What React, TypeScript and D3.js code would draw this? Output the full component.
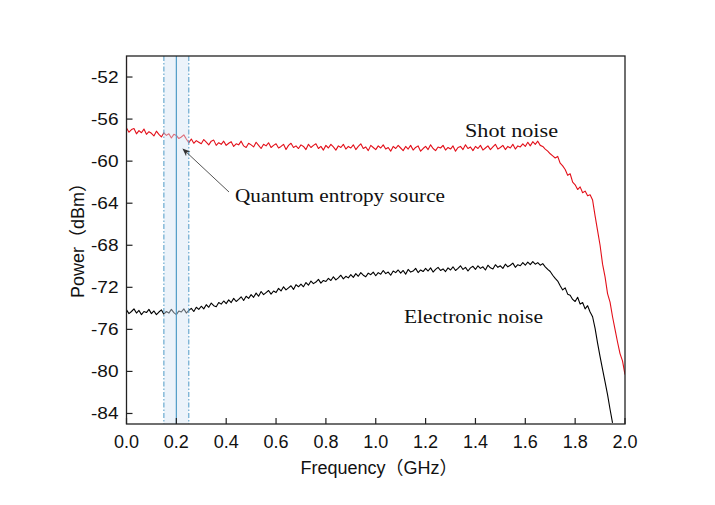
import React from "react";
import * as d3 from "d3";

// ---------- data ----------
const freqStep = 0.01; // GHz spacing of the sampled spectrum
const shotNoiseDc = { freq: 0, power: -50 };
const shotNoise: number[] = [
  -56.85, -57.25, -57.0, -56.9, -57.4, -57.1, -57.3, -56.95, -57.45, -57.2,
  -57.35, -57.6, -57.15, -57.45, -57.7, -57.3, -57.55, -57.4, -57.8, -57.45,
  -57.55, -57.85, -57.7, -57.5, -57.9, -58.25, -57.9, -58.3, -58.05, -58.2,
  -58.35, -57.95, -58.2, -58.45, -58.1, -58.0, -58.5, -58.25, -58.4, -58.1,
  -58.5, -58.3, -58.15, -58.6, -58.35, -58.45, -58.1, -58.55, -58.7, -58.3,
  -58.45, -58.65, -58.2, -58.5, -58.8, -58.4, -58.55, -58.25, -58.7, -58.5,
  -58.35, -58.75, -58.6, -58.4, -58.9, -58.5, -58.3, -58.7, -58.55, -58.8,
  -58.45, -58.6, -58.9, -58.4, -58.7, -58.5, -58.35, -58.8, -58.6, -58.95,
  -58.5, -58.75, -58.4, -58.65, -58.95, -58.55, -58.7, -58.4, -58.85, -58.6,
  -58.75, -58.45, -58.9, -58.6, -58.35, -58.8, -58.65, -59.0, -58.5, -58.7,
  -58.9, -58.55, -58.75, -58.45, -58.85, -58.7, -59.05, -58.6, -58.8, -58.5,
  -58.75, -59.0, -58.6, -58.85, -58.5, -58.95, -58.7, -58.55, -59.05, -58.8,
  -58.6, -58.9, -58.45, -58.8, -59.0, -58.65, -58.75, -58.5, -58.95, -58.7,
  -58.85, -58.55, -59.05, -58.7, -58.6, -58.9, -58.45, -58.8, -58.65, -59.0,
  -58.6, -58.8, -58.5, -58.95, -58.75, -58.55, -58.9, -58.65, -58.4, -58.85,
  -58.7, -58.5, -58.9, -58.6, -58.75, -58.4, -58.85, -58.55, -58.65, -58.35,
  -58.6, -58.2, -58.55, -58.15, -58.4, -58.1, -58.5, -58.6, -58.85, -59.05,
  -59.3, -59.5, -59.7, -59.55, -60.2, -60.45, -60.8, -61.35, -61.2, -62.0,
  -62.25, -62.7, -62.45, -63.0, -62.85, -63.3, -63.2, -63.7, -65.2, -66.6,
  -68.0, -69.8, -71.0, -72.6, -73.4, -74.8, -76.0, -77.2, -78.3, -79.0,
  -80.3,
];
const electronicNoise: number[] = [
  -74.15, -74.5, -74.3, -74.05, -74.45, -74.2, -74.6, -74.3, -74.4, -74.1,
  -74.5, -74.25, -74.6, -74.35, -74.15, -74.55, -74.3, -74.45, -74.1, -74.4,
  -74.6, -74.25, -74.35, -74.05, -74.45, -74.2, -74.0, -74.3, -73.9, -74.1,
  -73.8, -74.05, -73.65, -73.9, -73.5, -73.75, -73.85, -73.45, -73.6, -73.3,
  -73.55, -73.2, -73.45, -73.05, -73.35, -73.15, -72.9, -73.25, -72.85, -73.05,
  -72.7, -72.95, -72.55, -72.85, -72.4, -72.7, -72.5, -72.3, -72.65, -72.35,
  -72.5, -72.1, -72.35, -71.95, -72.25, -72.05, -71.85, -72.2, -71.75, -71.95,
  -71.7, -71.95, -71.55, -71.8, -71.4, -71.65, -71.5, -71.25, -71.6, -71.35,
  -71.45, -71.15, -71.35, -71.0, -71.3, -71.1, -70.85, -71.2, -70.95, -71.1,
  -70.8, -71.05, -70.7, -70.95, -70.6, -70.85, -71.0, -70.65, -70.8, -70.55,
  -70.9, -70.6, -70.75, -70.4, -70.7, -70.55, -70.85, -70.45, -70.6, -70.35,
  -70.65, -70.4, -70.75, -70.3, -70.55, -70.45, -70.2, -70.6, -70.35, -70.5,
  -70.2, -70.45, -70.15, -70.55, -70.3, -70.1, -70.4, -70.25, -70.5, -70.15,
  -70.35, -70.05, -70.4, -70.2, -69.95, -70.3, -70.1, -70.45, -70.15, -70.0,
  -70.3, -69.95, -70.2, -70.05, -70.35, -69.9, -70.15, -70.25, -69.85, -70.1,
  -69.95, -70.2, -69.8, -70.05, -69.9, -69.7, -70.1, -69.85, -69.95, -69.65,
  -69.9, -69.6, -69.85, -69.55, -69.8, -69.65, -69.9, -69.75, -70.05, -70.3,
  -70.5, -70.85, -71.15, -71.4, -71.85, -72.25, -72.05, -72.65, -72.75, -73.15,
  -73.35, -72.95, -73.6, -73.45, -74.05, -73.75, -74.35, -74.8, -75.9, -77.3,
  -78.6, -79.8, -81.0, -82.2, -83.6, -84.9,
];
const xTicks: number[] = [0, 0.2, 0.4, 0.6, 0.8, 1.0, 1.2, 1.4, 1.6, 1.8, 2.0];
const yTicks: number[] = [-84, -80, -76, -72, -68, -64, -60, -56, -52];
const band = { lo: 0.15, center: 0.2, hi: 0.25 };
const labels = {
  x: "Frequency（GHz）",
  y: "Power（dBm）",
  shot: "Shot noise",
  electronic: "Electronic noise",
  entropy: "Quantum entropy source",
};

// ---------- chart ----------
export default function App() {
  const W = 715, H = 505;
  const left = 126.5, right = 625, top = 56, bottom = 424;
  const x = d3.scaleLinear().domain([0, 2]).range([left, right]);
  const y = d3.scaleLinear().domain([-85, -50]).range([bottom, top]);

  type P = { freq: number; power: number };
  const redPts: P[] = [shotNoiseDc, ...shotNoise.map((p, i) => ({ freq: i * freqStep, power: p }))];
  const blackPts: P[] = electronicNoise.map((p, i) => ({ freq: i * freqStep, power: p }));
  const line = d3.line<P>().x((d) => x(d.freq)).y((d) => y(d.power));

  const sans = "'Liberation Sans', Arial, 'Noto Sans CJK SC', sans-serif";
  const serif = "'Liberation Serif', 'Times New Roman', serif";
  const bandColor = "#4f9ac6";

  return (
    <svg width={W} height={H} style={{ position: "absolute", left: 0, top: 0, background: "#fff" }}>
      <defs>
        <clipPath id="plot">
          <rect x={left} y={top} width={right - left} height={bottom - top} />
        </clipPath>
        <marker id="arrow" viewBox="0 0 10 10" refX="9" refY="5" markerWidth="8" markerHeight="8" orient="auto-start-reverse">
          <path d="M0,1 L10,5 L0,9 L3,5 Z" fill="#333" />
        </marker>
      </defs>
      <rect x={0} y={0} width={W} height={H} fill="#fff" />
      <g clipPath="url(#plot)">
        <path d={line(redPts) || ""} fill="none" stroke="#e3101a" strokeWidth={1.1} strokeLinejoin="round" />
        <path d={line(blackPts) || ""} fill="none" stroke="#000" strokeWidth={1.1} strokeLinejoin="round" />
        <rect x={x(band.lo)} y={top} width={x(band.hi) - x(band.lo)} height={bottom - top} fill="#d4e4f4" fillOpacity={0.45} />
        <line x1={x(band.lo)} x2={x(band.lo)} y1={top} y2={bottom} stroke={bandColor} strokeWidth={1} strokeDasharray="5,2,1.5,2" />
        <line x1={x(band.hi)} x2={x(band.hi)} y1={top} y2={bottom} stroke={bandColor} strokeWidth={1} strokeDasharray="5,2,1.5,2" />
        <line x1={x(band.center)} x2={x(band.center)} y1={top} y2={bottom} stroke={bandColor} strokeWidth={1.2} />
      </g>
      <rect x={left} y={top} width={right - left} height={bottom - top} fill="none" stroke="#222" strokeWidth={1.3} />
      {xTicks.map((t) => (
        <g key={"x" + t}>
          <line x1={x(t)} x2={x(t)} y1={bottom} y2={bottom - 6} stroke="#222" strokeWidth={1.2} />
          <text x={x(t)} y={448} textAnchor="middle" fontFamily={sans} fontSize={18} fill="#111">
            {d3.format(".1f")(t)}
          </text>
        </g>
      ))}
      {yTicks.map((t) => (
        <g key={"y" + t}>
          <line x1={left} x2={left + 6} y1={y(t)} y2={y(t)} stroke="#222" strokeWidth={1.2} />
          <text x={118.5} y={y(t) + 6} textAnchor="end" fontFamily={sans} fontSize={17} fill="#111"
            transform={`translate(118.5,0) scale(1.12,1) translate(-118.5,0)`}>
            {t}
          </text>
        </g>
      ))}
      <text x={379} y={474} textAnchor="middle" fontFamily={sans} fontSize={18} fill="#111">{labels.x}</text>
      <text transform="translate(84,236) rotate(-90)" textAnchor="middle" fontFamily={sans} fontSize={18} fill="#111">{labels.y}</text>
      <text x={465} y={136.5} fontFamily={serif} fontSize={19.5} fill="#111" textLength={93} lengthAdjust="spacingAndGlyphs">{labels.shot}</text>
      <text x={404} y={322.5} fontFamily={serif} fontSize={19.5} fill="#111" textLength={139} lengthAdjust="spacingAndGlyphs">{labels.electronic}</text>
      <text x={235} y={202} fontFamily={serif} fontSize={19.5} fill="#111" textLength={210} lengthAdjust="spacingAndGlyphs">{labels.entropy}</text>
      <line x1={229} y1={192} x2={183} y2={149} stroke="#555" strokeWidth={1} markerEnd="url(#arrow)" />
    </svg>
  );
}
